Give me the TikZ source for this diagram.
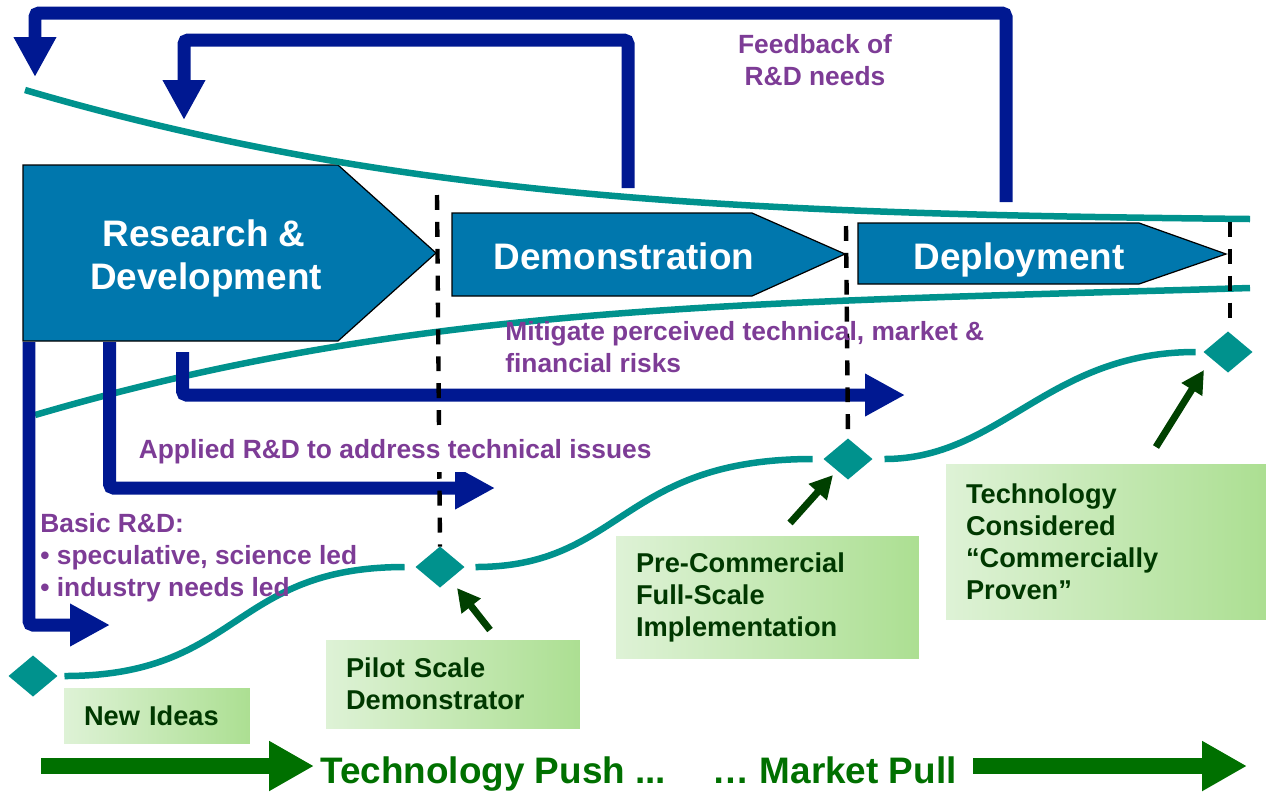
\documentclass[tikz,border=0pt]{standalone}
\usepackage{fontspec}
\setmainfont{Liberation Sans}
\usetikzlibrary{arrows.meta,shapes.geometric,calc}
\definecolor{rdblue}{RGB}{0,24,145}
\definecolor{boxblue}{RGB}{0,119,173}
\definecolor{tealc}{RGB}{0,146,141}
\definecolor{purp}{RGB}{125,60,150}
\definecolor{bigGreen}{RGB}{0,112,0}
\definecolor{darkGreen}{RGB}{0,64,0}
\definecolor{txtGreen}{RGB}{0,56,0}
\definecolor{boxL}{RGB}{222,242,214}
\definecolor{boxR}{RGB}{172,223,146}
\tikzset{
  phase/.style={fill=boxblue, draw=black, line width=0.7pt},
  maintxt/.style={text=white, font=\bfseries\fontsize{21}{25}\selectfont, inner sep=0pt},
  ptxt/.style={text=purp, font=\bfseries\fontsize{15}{18}\selectfont, inner sep=0pt},
  gbox/.style={left color=boxL, right color=boxR, draw=none, align=left, text=txtGreen,
    font=\bfseries\fontsize{15.5}{18.2}\selectfont, inner xsep=0.4cm, inner ysep=0pt},
  funnel/.style={draw=tealc, line width=0.13cm},
  diam/.style={diamond, fill=tealc, draw=none, minimum width=0.98cm, minimum height=0.82cm, inner sep=0pt, outer sep=0pt},
  ptr/.style={draw=darkGreen, line width=0.14cm, -{Triangle[length=0.46cm,width=0.46cm]}},
  fbarrow/.style={draw=rdblue, line width=0.26cm, rounded corners=0.08cm, -{Triangle[length=0.8cm,width=0.8cm]}},
  dashln/.style={draw=black, line width=2.5pt, dash pattern=on 8.5pt off 6.8pt},
  bigarrow/.style={draw=bigGreen, line width=0.32cm, -{Triangle[length=0.9cm,width=0.94cm]}},
  bottxt/.style={text=bigGreen, font=\bfseries\fontsize{21}{24}\selectfont, inner sep=0pt}
}
\begin{document}
\begin{tikzpicture}[x=0.02cm,y=-0.02cm]
\useasboundingbox (0,0) rectangle (1266,792);

% green label boxes
\node[gbox, text width=2.92cm, minimum height=1.1cm] (newideas) at (157,715.5) {New Ideas};
\node[gbox, text width=4.28cm, minimum height=1.76cm] (pilot) at (453,684) {Pilot Scale\\Demonstrator};
\node[gbox, text width=5.26cm, minimum height=2.44cm] (precom) at (767.5,597) {Pre-Commercial\\Full-Scale\\Implementation};
\node[gbox, text width=5.6cm, minimum height=3.1cm] (proven) at (1106,541.5) {Technology\\Considered\\“Commercially\\Proven”};

% phase arrows
\path[phase] (23,165) -- (338,165) -- (436,253) -- (338,341) -- (23,341) -- cycle;
\path[phase] (452,213) -- (752,213) -- (845,254) -- (752,296) -- (452,296) -- cycle;
\path[phase] (858,223) -- (1139,223) -- (1226,254) -- (1139,284) -- (858,284) -- cycle;
\node[maintxt, anchor=base] (rd1) at (204,246) {Research \&};
\node[maintxt, anchor=base] (rd2) at (206,289) {Development};
\node[maintxt, anchor=base] (demo) at (624,269) {Demonstration};
\node[maintxt, anchor=base] (depl) at (1019,269) {Deployment};

% funnel curves
\draw[funnel] (25,90) .. controls (400,200) and (750,214) .. (1250,219);
\draw[funnel] (35,415) .. controls (417,303) and (750,303) .. (1250,288);

% milestones
\node[diam] (d1) at (33,676) {};
\node[diam] (d2) at (440,567) {};
\node[diam] (d3) at (848,459) {};
\node[diam] (d4) at (1228,352) {};
\draw[funnel] ($(d1.east)+(7,0)$) .. controls +(176,0) and +(-174,0) .. ($(d2.west)+(-11,0)$);
\draw[funnel] ($(d2.east)+(11,0)$) .. controls +(147,0) and +(-193,0) .. ($(d3.west)+(-11,0)$);
\draw[funnel] ($(d3.east)+(12,0)$) .. controls +(116,0) and +(-148,0) .. ($(d4.west)+(-8,0)$);

% pointers
\coordinate (p1s) at (490,630); \coordinate (p1e) at (457,588);
\coordinate (p2s) at (790,523); \coordinate (p2e) at (833,475);
\coordinate (p3s) at (1156,447); \coordinate (p3e) at (1204,370);
\draw[ptr] (p1s) -- (p1e);
\draw[ptr] (p2s) -- (p2e);
\draw[ptr] (p3s) -- (p3e);

% blue arrows
\coordinate (fbOs) at (1006,202); \coordinate (fbOc) at (35,13); \coordinate (fbOe) at (35,77);
\coordinate (fbIs) at (628,188); \coordinate (fbIc) at (184,40); \coordinate (fbIe) at (184,120);
\coordinate (bs) at (29,342); \coordinate (be) at (110,625);
\coordinate (as) at (109.5,342); \coordinate (ae) at (495,488);
\coordinate (ms) at (182.5,352); \coordinate (me) at (905,395);
\draw[fbarrow] (fbOs) |- (fbOc) -- (fbOe);
\draw[fbarrow] (fbIs) |- (fbIc) -- (fbIe);
\draw[fbarrow] (bs) |- (be);
\draw[fbarrow] (as) |- (ae);
\draw[fbarrow] (ms) |- (me);

% dashed stage boundaries
\coordinate (dl1) at (437,195);
\coordinate (dl2) at (846,226);
\coordinate (dl3) at (1230,222); \coordinate (dl3e) at (1230,322);
\draw[dashln] (dl1) -- (d2.north);
\draw[dashln] (dl2) -- (d3.north);
\draw[dashln] (dl3) -- (dl3e);

% purple labels
\node[ptxt, anchor=base] (fb1) at (815,53) {Feedback of};
\node[ptxt, anchor=base] (fb2) at (815,85) {R\&D needs};
\node[ptxt, anchor=base west] (mi1) at (505,340) {Mitigate perceived technical, market \&};
\node[ptxt, anchor=base west] (mi2) at (505,372) {financial risks};
\node[ptxt, anchor=base west, fill=white, inner xsep=2pt, inner ysep=5pt] (ap) at (135,458) {Applied R\&D to address technical issues};
\node[ptxt, anchor=base west] (b1) at (40,532) {Basic R\&D:};
\node[ptxt, anchor=base west] (b2) at (40,564) {• speculative, science led};
\node[ptxt, anchor=base west] (b3) at (40,596) {• industry needs led};

% bottom
\coordinate (g1s) at (41,766); \coordinate (g1e) at (314,766);
\coordinate (g2s) at (973,766); \coordinate (g2e) at (1247,766);
\draw[bigarrow] (g1s) -- (g1e);
\draw[bigarrow] (g2s) -- (g2e);
\node[bottxt, anchor=base west] (push) at (320,783) {Technology Push ...};
\node[bottxt, anchor=base east] (pull) at (957,783) {… Market Pull};
\end{tikzpicture}
\end{document}
